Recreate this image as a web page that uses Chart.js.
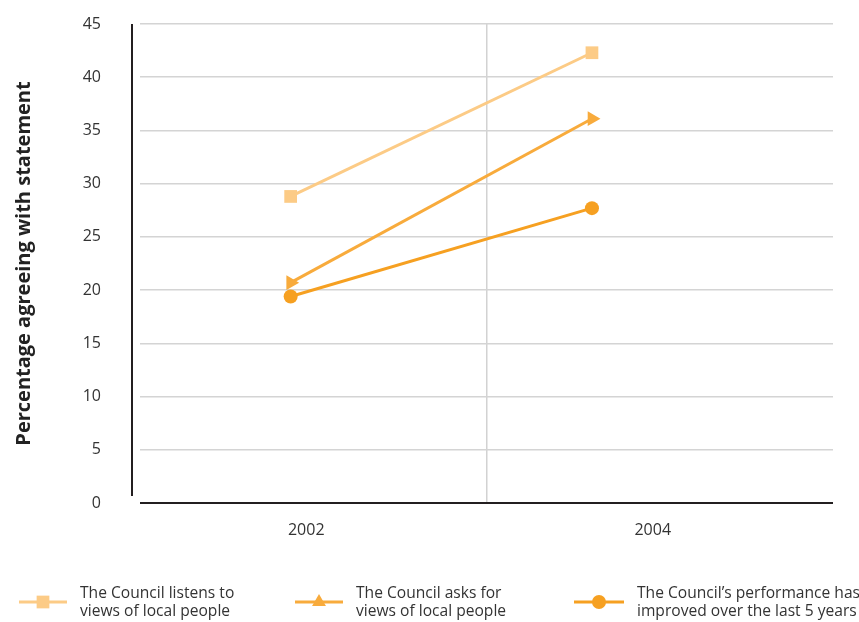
<!DOCTYPE html>
<html>
<head>
<meta charset="utf-8">
<script src="https://cdn.jsdelivr.net/npm/chart.js@4/dist/chart.umd.min.js"></script>
<style>
  html, body { margin: 0; padding: 0; background: #ffffff; }
  #wrap { width: 859px; height: 622px; position: relative; }
</style>
</head>
<body>
<div id="wrap"><canvas id="chart" width="859" height="622"></canvas></div>
<script>
// Survey years and the share of residents agreeing with each statement (%)
const years = [2002, 2004];
const yearLabels = ['2002', '2004'];
const listens = [28.8, 42.3];
const asks = [20.7, 36.1];
const performance = [19.4, 27.7];

const seriesNames = [
  ['The Council listens to', 'views of local people'],
  ['The Council asks for', 'views of local people'],
  ['The Council\u2019s performance has', 'improved over the last 5 years']
];

const FONT = "'Open Sans', 'Noto Sans', sans-serif";
const TEXT = '#333333';
const AXIS = '#231f20';

const toPoints = vals => years.map((yr, i) => ({ x: yr, y: vals[i] }));

// Dark axis lines, drawn slightly apart from each other
const axisLines = {
  id: 'axisLines',
  beforeDatasetsDraw(chart) {
    const { ctx, chartArea: a } = chart;
    ctx.save();
    ctx.strokeStyle = AXIS;
    ctx.lineWidth = 2;
    ctx.beginPath();
    ctx.moveTo(a.left - 8, a.top);
    ctx.lineTo(a.left - 8, a.bottom - 7);
    ctx.moveTo(a.left, a.bottom);
    ctx.lineTo(a.right, a.bottom);
    ctx.stroke();
    ctx.restore();
  }
};

// Legend below the plot: line sample with marker, two-line label
const lineLegend = {
  id: 'lineLegend',
  afterDraw(chart, args, opts) {
    const { ctx } = chart;
    ctx.save();
    chart.data.datasets.forEach((ds, i) => {
      const it = opts.items[i];
      const y = opts.lineY;
      ctx.strokeStyle = ds.borderColor;
      ctx.lineWidth = ds.borderWidth;
      ctx.beginPath();
      ctx.moveTo(it.x, y);
      ctx.lineTo(it.x + it.w, y);
      ctx.stroke();
      ctx.fillStyle = ds.pointBackgroundColor;
      Chart.helpers.drawPoint(ctx, {
        pointStyle: ds.pointStyle,
        rotation: 0,
        radius: it.r,
        borderWidth: 0
      }, it.x + it.w / 2, y);
      ctx.fillStyle = TEXT;
      ctx.font = '15.6px ' + FONT;
      ctx.textAlign = 'left';
      ctx.textBaseline = 'middle';
      seriesNames[i].forEach((line, k) => {
        ctx.fillText(line, it.tx, opts.textY + k * opts.lineGap);
      });
    });
    ctx.restore();
  }
};

const datasets = [
  {
    label: seriesNames[0].join(' '),
    data: toPoints(listens),
    borderColor: '#fccb86',
    pointBackgroundColor: '#fccb86',
    pointBorderColor: '#fccb86',
    pointStyle: 'rect',
    pointRadius: 9,
    order: 2
  },
  {
    label: seriesNames[1].join(' '),
    data: toPoints(asks),
    borderColor: '#f8ab3c',
    pointBackgroundColor: '#f8ab3c',
    pointBorderColor: '#f8ab3c',
    pointStyle: 'triangle',
    pointRotation: 90,
    pointRadius: 8.5,
    order: 1
  },
  {
    label: seriesNames[2].join(' '),
    data: toPoints(performance),
    borderColor: '#f6a021',
    pointBackgroundColor: '#f6a021',
    pointBorderColor: '#f6a021',
    pointStyle: 'circle',
    pointRadius: 7,
    order: 0
  }
].map(d => Object.assign({
  xAxisID: 'xp',
  yAxisID: 'y',
  borderWidth: 3,
  pointBorderWidth: 0,
  pointHoverRadius: d.pointRadius,
  tension: 0,
  fill: false
}, d));

new Chart(document.getElementById('chart'), {
  type: 'line',
  data: { datasets },
  options: {
    responsive: false,
    animation: false,
    devicePixelRatio: 1,
    layout: { padding: { top: 24, right: 26, bottom: 59, left: 0 } },
    plugins: {
      legend: { display: false },
      tooltip: { enabled: false },
      lineLegend: {
        lineY: 602,
        textY: 594,
        lineGap: 18,
        items: [
          { x: 19, w: 48, tx: 80, r: 9 },
          { x: 295, w: 48, tx: 356, r: 8 },
          { x: 574, w: 50, tx: 637, r: 7 }
        ]
      }
    },
    scales: {
      x: {
        type: 'category',
        labels: yearLabels,
        position: 'bottom',
        offset: true,
        grid: {
          offset: true,
          drawTicks: false,
          lineWidth: 1.5,
          color: ctx => ctx.index === 1 ? '#d2d2d2' : 'rgba(0,0,0,0)'
        },
        border: { display: false },
        ticks: {
          color: TEXT,
          font: { family: FONT, size: 16 },
          padding: 18,
          labelOffset: -7
        },
        afterFit: s => { s.height = 60; }
      },
      xp: {
        type: 'linear',
        display: false,
        min: 2001,
        max: 2005.6
      },
      y: {
        min: 0,
        max: 45,
        position: 'left',
        ticks: {
          stepSize: 5,
          color: TEXT,
          font: { family: FONT, size: 16 },
          padding: 39
        },
        grid: { color: '#d4d4d4', lineWidth: 1.5, drawTicks: false },
        border: { display: false },
        title: {
          display: true,
          text: 'Percentage agreeing with statement',
          color: '#222222',
          font: { family: FONT, size: 20, weight: 'bold' },
          padding: { top: 12, bottom: 0 }
        },
        afterFit: s => {
          s.width = 140;
          s.paddingTop = 0;
          s.paddingBottom = 0;
        }
      }
    }
  },
  plugins: [axisLines, lineLegend]
});
</script>
</body>
</html>
